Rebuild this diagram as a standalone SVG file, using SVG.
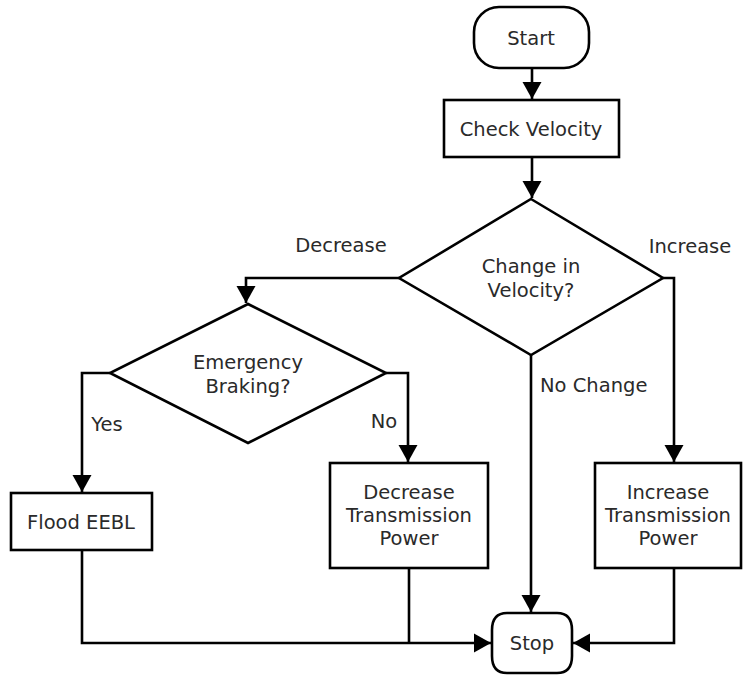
<svg xmlns="http://www.w3.org/2000/svg" width="744" height="678" viewBox="0 0 744 678">
<defs>
<style>
.s{fill:#fff;stroke:#000;stroke-width:2.6}
.c{fill:none;stroke:#000;stroke-width:2.6}
text{font-family:"DejaVu Sans","Liberation Sans",sans-serif;font-size:19.5px;fill:#2a2a2a;text-anchor:middle}
.l{text-anchor:start}
</style>
<marker id="a" markerUnits="userSpaceOnUse" markerWidth="20" markerHeight="20" viewBox="0 0 20 20" refX="18" refY="10" orient="auto">
<path d="M1,0.5 L18,10 L1,19.5 Z" fill="#000"/>
</marker>
</defs>
<rect width="744" height="678" fill="#fff"/>
<g id="connectors">
<path class="c" d="M532,68 V99" marker-end="url(#a)"/>
<path class="c" d="M532,157 V198" marker-end="url(#a)"/>
<path class="c" d="M399,278 H246 V303" marker-end="url(#a)"/>
<path class="c" d="M663,278 H674 V462" marker-end="url(#a)"/>
<path class="c" d="M531,355 V612" marker-end="url(#a)"/>
<path class="c" d="M110,373 H82 V492" marker-end="url(#a)"/>
<path class="c" d="M386,373 H408 V462" marker-end="url(#a)"/>
<path class="c" d="M82,550 V643 H491" marker-end="url(#a)"/>
<path class="c" d="M409,568 V643"/>
<path class="c" d="M674,568 V643 H573" marker-end="url(#a)"/>
<text x="341" y="252">Decrease</text>
<text x="690" y="253">Increase</text>
<text class="l" x="540" y="392">No Change</text>
<text x="107" y="431">Yes</text>
<text x="384" y="428">No</text>
</g>
<g id="start">
<rect class="s" x="474" y="7" width="115" height="61" rx="25"/>
<text x="531" y="45">Start</text>
</g>
<g id="check">
<rect class="s" x="444" y="100" width="175" height="57"/>
<text x="531" y="136">Check Velocity</text>
</g>
<g id="change">
<polygon class="s" points="531,199 663,278 531,355 399,278"/>
<text x="531" y="273">Change in</text>
<text x="531" y="297">Velocity?</text>
</g>
<g id="emergency">
<polygon class="s" points="248,304 386,373 248,443 110,373"/>
<text x="248" y="369">Emergency</text>
<text x="248" y="393">Braking?</text>
</g>
<g id="flood">
<rect class="s" x="11" y="493" width="141" height="57"/>
<text x="81" y="529">Flood EEBL</text>
</g>
<g id="decrease">
<rect class="s" x="330" y="463" width="158" height="105"/>
<text x="409" y="499">Decrease</text>
<text x="409" y="522">Transmission</text>
<text x="409" y="545">Power</text>
</g>
<g id="increase">
<rect class="s" x="595" y="463" width="146" height="105"/>
<text x="668" y="499">Increase</text>
<text x="668" y="522">Transmission</text>
<text x="668" y="545">Power</text>
</g>
<g id="stop">
<path class="s" d="M507,613 H557 C567,613 572,619 572,630 V656 C572,667 567,673 557,673 H507 C497,673 492,667 492,656 V630 C492,619 497,613 507,613 Z"/>
<text x="532" y="650">Stop</text>
</g>
</svg>
